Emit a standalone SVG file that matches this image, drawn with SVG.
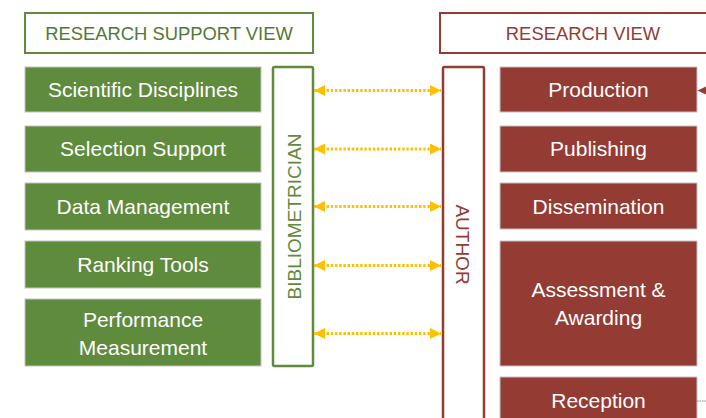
<svg xmlns="http://www.w3.org/2000/svg" width="706" height="418" viewBox="0 0 706 418">
<defs>
<style>
.hdr-g{fill:#fff;stroke:#5F8B3D;stroke-width:2}
.hdr-r{fill:#fff;stroke:#943B33;stroke-width:2}
.box-g{fill:#5F8B3D;stroke:#c4c4c4;stroke-width:1}
.box-r{fill:#943B33;stroke:#c4c4c4;stroke-width:1}
.tall-g{fill:#fff;stroke:#5F8B3D;stroke-width:2.5}
.tall-r{fill:#fff;stroke:#943B33;stroke-width:2.5}
text{font-family:"Liberation Sans",Arial,sans-serif;text-anchor:middle}
.ht{font-size:18.4px}
.bt{font-size:21px;fill:#fff}
.vt{font-size:19px}
.link{stroke:#FFC000;stroke-width:3;stroke-dasharray:2.4 1.8;fill:none}
</style>
<marker id="ya" viewBox="0 0 11 11" refX="11" refY="5.5" markerWidth="11" markerHeight="11" markerUnits="userSpaceOnUse" orient="auto-start-reverse">
<path d="M0,0 L11,5.5 L0,11 z" fill="#FFC000"/>
</marker>
</defs>

<g id="hdr-support">
<rect class="hdr-g" x="25" y="13" width="288" height="40"/>
<text class="ht" x="169" y="40" fill="#4E7A33">RESEARCH SUPPORT VIEW</text>
</g>
<g id="hdr-research">
<rect class="hdr-r" x="440" y="13" width="290" height="40"/>
<text class="ht" x="583" y="40" fill="#943B33">RESEARCH VIEW</text>
</g>

<g id="scientific-disciplines">
<rect class="box-g" x="25" y="67" width="236" height="45"/>
<text class="bt" x="143" y="97">Scientific Disciplines</text>
</g>
<g id="selection-support">
<rect class="box-g" x="25" y="126" width="236" height="46"/>
<text class="bt" x="143" y="156">Selection Support</text>
</g>
<g id="data-management">
<rect class="box-g" x="25" y="183" width="236" height="47"/>
<text class="bt" x="143" y="214">Data Management</text>
</g>
<g id="ranking-tools">
<rect class="box-g" x="25" y="241" width="236" height="47"/>
<text class="bt" x="143" y="272">Ranking Tools</text>
</g>
<g id="performance-measurement">
<rect class="box-g" x="25" y="299" width="236" height="67"/>
<text class="bt" x="143" y="327">Performance</text>
<text class="bt" x="143" y="355">Measurement</text>
</g>

<g id="bibliometrician">
<rect class="tall-g" x="273" y="67" width="40" height="299" rx="1.5"/>
<text class="vt" fill="#5F8B3D" transform="translate(300.5,216.5) rotate(-90)">BIBLIOMETRICIAN</text>
</g>
<g id="author">
<rect class="tall-r" x="443" y="67" width="41" height="370" rx="1.5"/>
<text class="vt" fill="#943B33" transform="translate(455.5,244.5) rotate(90)">AUTHOR</text>
</g>

<g id="production">
<rect class="box-r" x="500" y="67" width="197" height="45"/>
<text class="bt" x="598.5" y="97">Production</text>
</g>
<g id="publishing">
<rect class="box-r" x="500" y="126" width="197" height="46"/>
<text class="bt" x="598.5" y="156">Publishing</text>
</g>
<g id="dissemination">
<rect class="box-r" x="500" y="183" width="197" height="46"/>
<text class="bt" x="598.5" y="214">Dissemination</text>
</g>
<g id="assessment-awarding">
<rect class="box-r" x="500" y="241" width="197" height="125"/>
<text class="bt" x="598.5" y="297">Assessment &amp;</text>
<text class="bt" x="598.5" y="325">Awarding</text>
</g>
<g id="reception">
<rect class="box-r" x="500" y="377" width="197" height="60"/>
<text class="bt" x="598.5" y="408">Reception</text>
</g>

<g id="connectors">
<line class="link" x1="314" y1="90.5" x2="441" y2="90.5" marker-start="url(#ya)" marker-end="url(#ya)"/>
<line class="link" x1="314" y1="149" x2="441" y2="149" marker-start="url(#ya)" marker-end="url(#ya)"/>
<line class="link" x1="314" y1="206.5" x2="441" y2="206.5" marker-start="url(#ya)" marker-end="url(#ya)"/>
<line class="link" x1="314" y1="265.5" x2="441" y2="265.5" marker-start="url(#ya)" marker-end="url(#ya)"/>
<line class="link" x1="314" y1="333.5" x2="441" y2="333.5" marker-start="url(#ya)" marker-end="url(#ya)"/>
<polygon points="697.5,90.5 707,86 707,95" fill="#943B33"/>
<line x1="697" y1="401" x2="706" y2="401" stroke="#888" stroke-width="1" stroke-dasharray="1.5 1"/>
</g>
</svg>
